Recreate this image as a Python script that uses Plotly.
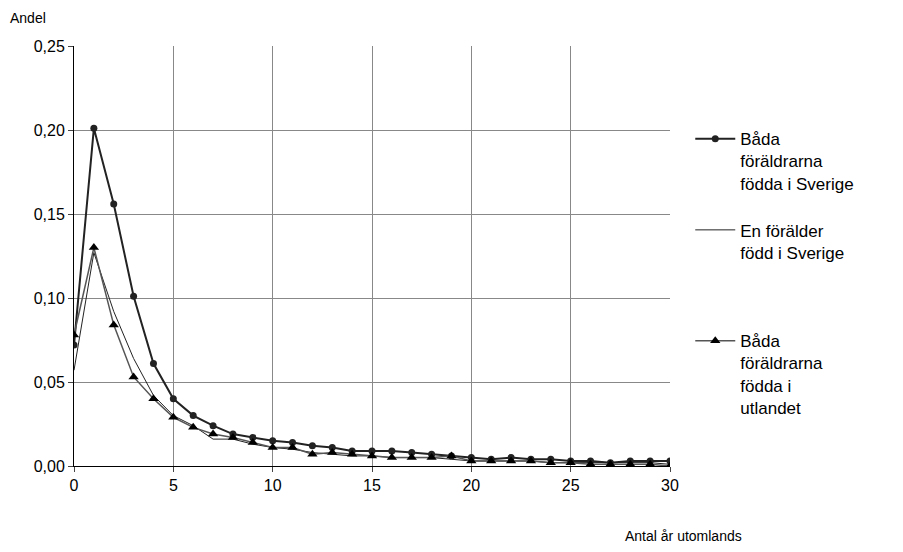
import plotly.graph_objects as go

years = list(range(31))
bada_sverige = [0.072, 0.201, 0.156, 0.101, 0.061, 0.040, 0.030, 0.024, 0.019, 0.017,
                0.015, 0.014, 0.012, 0.011, 0.009, 0.009, 0.009, 0.008, 0.007, 0.006,
                0.005, 0.004, 0.005, 0.004, 0.004, 0.003, 0.003, 0.002, 0.003, 0.003, 0.003]
en_sverige = [0.057, 0.127, 0.092, 0.064, 0.042, 0.030, 0.024, 0.016, 0.016, 0.013,
              0.011, 0.010, 0.008, 0.007, 0.006, 0.006, 0.005, 0.005, 0.005, 0.004,
              0.003, 0.003, 0.003, 0.003, 0.002, 0.002, 0.002, 0.002, 0.002, 0.002, 0.001]
bada_utlandet = [0.078, 0.130, 0.084, 0.053, 0.040, 0.029, 0.023, 0.019, 0.017, 0.014,
                 0.011, 0.011, 0.007, 0.008, 0.007, 0.006, 0.005, 0.005, 0.005, 0.006,
                 0.003, 0.003, 0.003, 0.003, 0.002, 0.002, 0.001, 0.001, 0.001, 0.001, 0.000]

fig = go.Figure()
fig.add_trace(go.Scatter(x=years, y=bada_sverige, mode='lines+markers',
                         name='Båda<br>föräldrarna<br>födda i Sverige', legend='legend',
                         showlegend=True,
                         line=dict(color='#222222', width=2),
                         marker=dict(symbol='circle', size=7, color='#222222')))
fig.add_trace(go.Scatter(x=years, y=en_sverige, mode='lines',
                         name='En förälder<br>född i Sverige', legend='legend2',
                         showlegend=True,
                         line=dict(color='#222222', width=1)))
fig.add_trace(go.Scatter(x=years, y=bada_utlandet, mode='lines+markers',
                         name='Båda<br>föräldrarna<br>födda i<br>utlandet', legend='legend3',
                         showlegend=True,
                         line=dict(color='#555555', width=1.5),
                         marker=dict(symbol='triangle-up', size=9, color='black')))

leg = dict(x=1.034, xanchor='left', yanchor='top', valign='top', itemwidth=40,
           font=dict(size=17), bgcolor='rgba(0,0,0,0)')

fig.update_layout(
    width=903, height=552,
    showlegend=True,
    margin=dict(l=66, r=241, t=38, b=94),
    plot_bgcolor='white', paper_bgcolor='white',
    separators=',.',
    font=dict(family='Liberation Sans, Arial', size=16, color='black'),
    xaxis=dict(range=[0, 30], dtick=5, showgrid=True, gridcolor='#888888',
               showline=True, linecolor='black', zeroline=False, ticks='outside',
               ticklen=5),
    yaxis=dict(range=[0, 0.25], dtick=0.05, tickformat='.2f', showgrid=True,
               gridcolor='#888888', showline=True, linecolor='black', zeroline=False,
               ticks='outside', ticklen=5),
    legend=dict(leg, y=0.821),
    legend2=dict(leg, y=0.604),
    legend3=dict(leg, y=0.34),
    annotations=[
        dict(text='Andel', x=0, y=1, xref='paper', yref='paper', xshift=-66, yshift=18,
             xanchor='left', yanchor='bottom', showarrow=False, font=dict(size=14)),
        dict(text='Antal år utomlands', x=1, y=0, xref='paper', yref='paper',
             xanchor='center', yanchor='top', yshift=-60, xshift=13,
             showarrow=False, font=dict(size=14)),
    ],
)

fig.write_html("out.html")
